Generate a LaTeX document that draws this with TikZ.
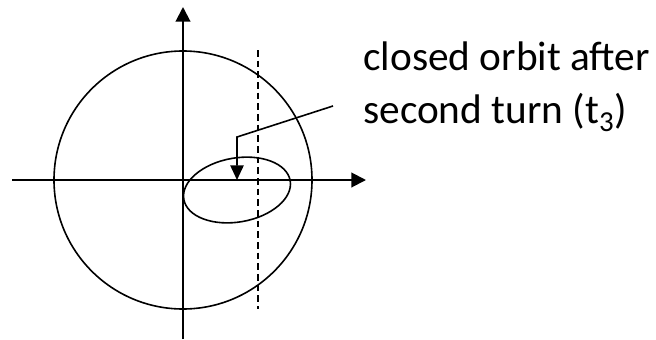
\documentclass[tikz,border=0pt]{standalone}
\usepackage{fontspec}
\setmainfont{Carlito}
\usetikzlibrary{arrows.meta}
\tikzset{
    axis/.style={-{Triangle[length=11pt, width=11pt]}, line width=1.5pt},
    orbit/.style={line width=1.2pt},
    guide/.style={line width=1.2pt, dash pattern=on 5pt off 3pt},
    pointer/.style={-{Triangle[length=11pt, width=10pt]}, line width=1.2pt},
    label/.style={align=left, inner sep=0pt, font=\fontsize{31}{39.75}\selectfont},
}
\begin{document}
\begin{tikzpicture}[x=0.75pt, y=-0.75pt]
    \useasboundingbox (0,0) rectangle (656,339);
    \coordinate (origin) at (183,180);
    \coordinate (xstart) at (12,180);
    \coordinate (xend) at (366,180);
    \coordinate (ystart) at (183,339);
    \coordinate (yend) at (183,7);

    % outer circle and closed orbit
    \draw[orbit] (origin) circle[radius=129];
    \draw[orbit, rotate around={10:(237,190)}] (237,190) ellipse[x radius=54, y radius=32];
    \draw[guide] (258,50) -- (258,309);

    % axes
    \draw[axis] (xstart) -- (xend);
    \draw[axis] (ystart) -- (yend);

    % label and pointer
    \node[label, anchor=north west] (orbitlabel) at (363,42) {closed orbit after\\second turn (t\textsubscript{3})};
    \coordinate (lead) at (333,106);
    \coordinate (bend) at (237,137);
    \coordinate (target) at (237,180);
    \draw[pointer] (lead) -- (bend) -- (target);
\end{tikzpicture}
\end{document}
